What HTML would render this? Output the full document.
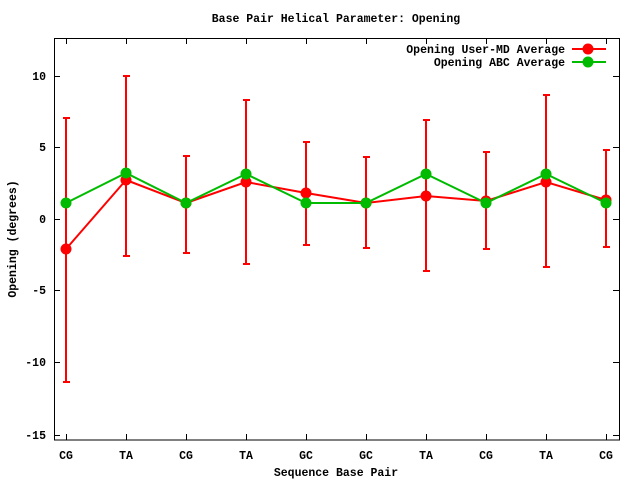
<!DOCTYPE html>
<html><head><style>body{margin:0;background:#fff}svg{display:block}text{font-family:"Liberation Mono",monospace;font-weight:bold;font-size:11.5px;fill:#000}</style></head><body>
<svg width="640" height="480" xmlns="http://www.w3.org/2000/svg">
<rect x="54.5" y="38.5" width="565" height="401.5" fill="none" stroke="#000" stroke-width="1"/>
<g stroke="#000" stroke-width="1">
<path d="M54 76.5h6M619 76.5h-6M54 147.5h6M619 147.5h-6M54 219.5h6M619 219.5h-6M54 290.5h6M619 290.5h-6M54 362.5h6M619 362.5h-6M54 435.5h6M619 435.5h-6"/>
<path d="M66.5 440v-6M66.5 38v6M126.5 440v-6M126.5 38v6M186.5 440v-6M186.5 38v6M246.5 440v-6M246.5 38v6M306.5 440v-6M306.5 38v6M366.5 440v-6M366.5 38v6M426.5 440v-6M426.5 38v6M486.5 440v-6M486.5 38v6M546.5 440v-6M546.5 38v6M606.5 440v-6M606.5 38v6"/>
</g>
<g text-anchor="end"><text x="46" y="80">10</text><text x="46" y="151">5</text><text x="46" y="223">0</text><text x="46" y="294">-5</text><text x="46" y="366">-10</text><text x="46" y="439">-15</text></g>
<g text-anchor="middle"><text x="66" y="459">CG</text><text x="126" y="459">TA</text><text x="186" y="459">CG</text><text x="246" y="459">TA</text><text x="306" y="459">GC</text><text x="366" y="459">GC</text><text x="426" y="459">TA</text><text x="486" y="459">CG</text><text x="546" y="459">TA</text><text x="606" y="459">CG</text>
<text x="336" y="476">Sequence Base Pair</text>
<text x="336" y="22">Base Pair Helical Parameter: Opening</text>
<text transform="translate(16,239) rotate(-90)">Opening (degrees)</text></g>
<g stroke="#f00" stroke-width="2" fill="none">
<path d="M66 118V382M63 118h7M63 382h7M126 76V256M123 76h7M123 256h7M186 156V253M183 156h7M183 253h7M246 100V264M243 100h7M243 264h7M306 142V245M303 142h7M303 245h7M366 157V248M363 157h7M363 248h7M426 120V271M423 120h7M423 271h7M486 152V249M483 152h7M483 249h7M546 95V267M543 95h7M543 267h7M606 150V247M603 150h7M603 247h7"/>
<polyline points="66,249 126,180 186,203 246,182 306,193 366,203 426,196 486,201 546,182 606,200"/>
<path d="M572 49h34"/>
</g>
<g fill="#f00"><circle cx="66" cy="249" r="5.5"/><circle cx="126" cy="180" r="5.5"/><circle cx="186" cy="203" r="5.5"/><circle cx="246" cy="182" r="5.5"/><circle cx="306" cy="193" r="5.5"/><circle cx="366" cy="203" r="5.5"/><circle cx="426" cy="196" r="5.5"/><circle cx="486" cy="201" r="5.5"/><circle cx="546" cy="182" r="5.5"/><circle cx="606" cy="200" r="5.5"/><circle cx="588" cy="49" r="5.5"/></g>
<g stroke="#0b0" stroke-width="2" fill="none">
<polyline points="66,203 126,173 186,203 246,174 306,203 366,203 426,174 486,203 546,174 606,203"/>
<path d="M572 62h34"/>
</g>
<g fill="#0b0"><circle cx="66" cy="203" r="5.5"/><circle cx="126" cy="173" r="5.5"/><circle cx="186" cy="203" r="5.5"/><circle cx="246" cy="174" r="5.5"/><circle cx="306" cy="203" r="5.5"/><circle cx="366" cy="203" r="5.5"/><circle cx="426" cy="174" r="5.5"/><circle cx="486" cy="203" r="5.5"/><circle cx="546" cy="174" r="5.5"/><circle cx="606" cy="203" r="5.5"/><circle cx="588" cy="62" r="5.5"/></g>
<g text-anchor="end"><text x="565" y="53">Opening User-MD Average</text><text x="565" y="66">Opening ABC Average</text></g>
</svg>
</body></html>
